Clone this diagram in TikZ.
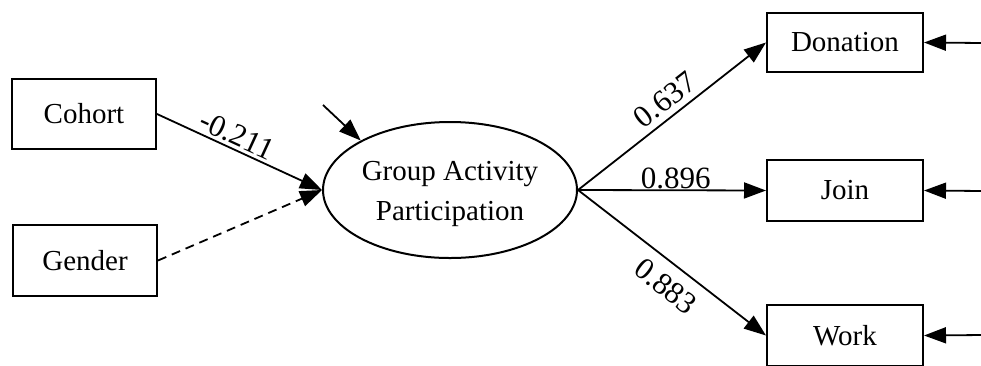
\documentclass[tikz,border=0pt]{standalone}
\usepackage{fontspec}
\setmainfont{Liberation Serif}
\usetikzlibrary{arrows.meta,shapes.geometric}
\begin{document}
\begin{tikzpicture}[x=1pt,y=-1pt,
  every node/.style={font=\fontsize{29}{40}\selectfont},
  varbox/.style={draw,line width=2pt,rectangle,minimum width=144pt,minimum height=70pt,inner sep=0pt},
  obsbox/.style={draw,line width=2pt,rectangle,minimum width=156pt,minimum height=60pt,inner sep=0pt},
  latent/.style={draw,line width=2pt,ellipse,minimum width=254pt,minimum height=136pt,inner sep=0pt},
  conn/.style={line width=1.8pt,-{Triangle[length=22pt,width=16pt]}},
  coef/.style={font=\fontsize{31}{31}\selectfont,sloped,inner sep=2pt}]
\useasboundingbox (0,0) rectangle (981,365);
\node[varbox] (cohort) at (84,114) {Cohort};
\node[varbox,minimum height=71pt] (gender) at (85,260.5) {Gender};
\node[latent] (gap) at (450,190) {};
\node[align=center,inner sep=0pt] (gaptext) at (450,194) {Group Activity\\Participation};
\node[obsbox,minimum height=59pt] (don) at (845,42.5) {Donation};
\node[obsbox,minimum height=61pt] (join) at (845,190.5) {Join};
\node[obsbox,minimum height=61pt] (work) at (845,335.5) {Work};
\coordinate (err) at (323,105);
\coordinate (edon) at (983,43);
\coordinate (ejoin) at (983,191);
\coordinate (ework) at (983,335);
\draw[conn] (cohort.east) -- node[coef,pos=0.45,above=1pt] {-0.211} (gap.west);
\draw[conn,dash pattern=on 9pt off 6pt] (gender.east) -- (gap.west);
\draw[conn] (err) -- (gap.151);
\draw[conn] (gap.east) -- node[coef,pos=0.52,above=4pt] {0.637} (don.west);
\draw[conn] (gap.east) -- node[coef,pos=0.52,above,yshift=-2pt] {0.896} (join.west);
\draw[conn] (gap.east) -- node[coef,pos=0.54,below=9pt] {0.883} (work.west);
\draw[conn] (edon) -- (don.east);
\draw[conn] (ejoin) -- (join.east);
\draw[conn] (ework) -- (work.east);
\end{tikzpicture}
\end{document}
